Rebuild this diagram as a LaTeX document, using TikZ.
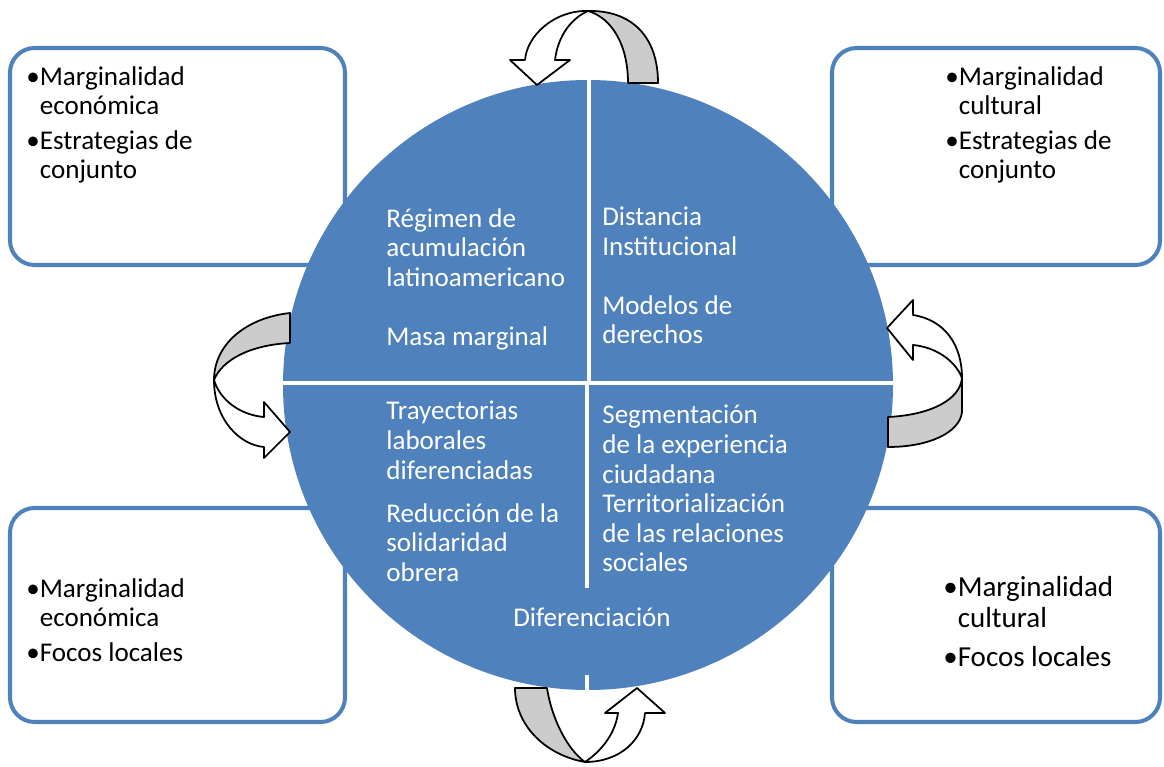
\documentclass[tikz,border=0pt]{standalone}
\usepackage{fontspec}
\setmainfont{Carlito}
\usepackage{tikz}
\usetikzlibrary{shapes,arrows,positioning,calc}
\definecolor{cblue}{HTML}{4F81BD}
\definecolor{bandgray}{HTML}{CCCCCC}

\begin{document}
\begin{tikzpicture}[x=0.02cm,y=-0.02cm,
    box/.style={draw=cblue, line width=2.3pt, rounded corners=14pt, fill=white},
    wtext/.style={text=white, anchor=north west, inner sep=0pt, align=left, font=\fontsize{15.4}{16.8}\selectfont},
    btext/.style={anchor=north west, inner sep=0pt, align=left, font=\fontsize{15.4}{16.8}\selectfont},
    bigtext/.style={anchor=north west, inner sep=0pt, align=left, font=\fontsize{16.5}{17.5}\selectfont},
    band/.style={draw=black, line width=1pt, fill=bandgray, line join=round},
    front/.style={draw=black, line width=1pt, fill=white, line join=round}]
    \useasboundingbox (0,0) rectangle (1164,767);
    % corner boxes
    \draw[box] (10,48) rectangle (345,265);
    \draw[box] (832,48) rectangle (1160,265);
    \draw[box] (10,508) rectangle (345,722);
    \draw[box] (832,508) rectangle (1160,722);
    \node[btext] (tl1) at (26,66) {•Marginalidad\\\phantom{•}económica};
    \node[btext] (tl2) at (26,130) {•Estrategias de\\\phantom{•}conjunto};
    \node[btext] (tr1) at (945,66) {•Marginalidad\\\phantom{•}cultural};
    \node[btext] (tr2) at (945,130) {•Estrategias de\\\phantom{•}conjunto};
    \node[btext] (bl1) at (26,578) {•Marginalidad\\\phantom{•}económica};
    \node[btext] (bl2) at (26,642) {•Focos locales};
    \node[bigtext] (br1) at (943,576) {•Marginalidad\\\phantom{•}cultural};
    \node[bigtext] (br2) at (943,646) {•Focos locales};
    % central circle
    \fill[cblue] (588,385) circle (305);
    \draw[white, line width=2.3pt] (589,78) -- (589,385);
    \draw[white, line width=2.3pt] (587,385) -- (587,588);
    \draw[white, line width=2.3pt] (587,675) -- (587,692);
    \draw[white, line width=2.3pt] (280,383) -- (896,383);
    \node[wtext] (reg) at (386,208) {Régimen de\\acumulación\\latinoamericano};
    \node[wtext] (masa) at (386,326) {Masa marginal};
    \node[wtext] (dist) at (602,207) {Distancia\\Institucional};
    \node[wtext] (mod) at (602,295) {Modelos de\\derechos};
    \node[wtext] (tray) at (386,401) {Trayectorias\\laborales\\diferenciadas};
    \node[wtext] (red) at (386,503) {Reducción de la\\solidaridad\\obrera};
    \node[wtext] (seg) at (602,405) {Segmentación\\de la experiencia\\ciudadana\\Territorialización\\de las relaciones\\sociales};
    \node[wtext, anchor=center] (dif) at (592,617) {Diferenciación};
    % curved arrows
    \draw[band] (628,83) -- (658,83) .. controls (658,35) and (630,10) .. (588,11) .. controls (612,18) and (628,45) .. (628,83) -- cycle;
    \draw[front] (588,11) .. controls (555,10) and (527,35) .. (525,60) -- (510,60) -- (537,85) -- (570,60) -- (555,60) .. controls (558,35) and (572,18) .. (588,11) -- cycle;
    \draw[band] (290,313) .. controls (245,318) and (214,345) .. (214,380) .. controls (222,360) and (250,345) .. (290,343) -- cycle;
    \draw[front] (214,380) .. controls (214,420) and (240,445) .. (264,447) -- (264,458) -- (290,432) -- (264,402) -- (264,417) .. controls (240,415) and (220,400) .. (214,380) -- cycle;
    \draw[band] (888,417) .. controls (930,415) and (960,400) .. (962,378) -- (962,412) .. controls (960,432) and (930,447) .. (888,447) -- cycle;
    \draw[front] (962,378) .. controls (962,345) and (945,320) .. (913,315) -- (913,300) -- (887,328) -- (913,360) -- (913,345) .. controls (935,347) and (955,360) .. (962,378) -- cycle;
    \draw[band] (515,688) -- (547,688) .. controls (552,720) and (568,750) .. (585,762) .. controls (545,755) and (515,725) .. (515,688) -- cycle;
    \draw[front] (585,762) .. controls (620,762) and (643,740) .. (645,713) -- (665,713) -- (637,688) -- (605,713) -- (618,713) .. controls (615,735) and (600,752) .. (585,762) -- cycle;
\end{tikzpicture}
\end{document}
